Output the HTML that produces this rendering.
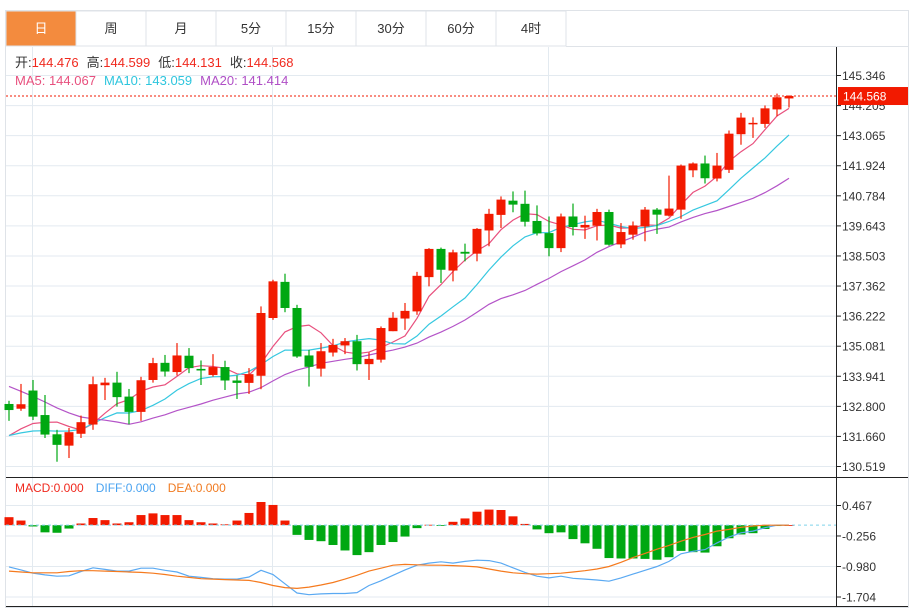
<!DOCTYPE html>
<html><head><meta charset="utf-8">
<style>
html,body{margin:0;padding:0;background:#fff;}
body{width:916px;height:609px;overflow:hidden;font-family:"Liberation Sans","Noto Sans CJK SC",sans-serif;}
svg{display:block}
</style></head>
<body>
<svg id="chart" width="916" height="609" viewBox="0 0 916 609" xmlns="http://www.w3.org/2000/svg" font-family="Liberation Sans, Noto Sans CJK SC, sans-serif">
  <rect x="5.5" y="10.5" width="903" height="597" fill="#fff" stroke="#dfe3e8"/>
  <g id="tabs"></g>
  <g id="grid"></g>
  <g id="ma"></g>
  <g id="candles"></g>
  <g id="macd"></g>
  <g id="axes"></g>
  <g font-size="13">
    <text x="15" y="67"><tspan fill="#333">开:</tspan><tspan fill="#f0291e">144.476</tspan><tspan fill="#333" dx="8">高:</tspan><tspan fill="#f0291e">144.599</tspan><tspan fill="#333" dx="8">低:</tspan><tspan fill="#f0291e">144.131</tspan><tspan fill="#333" dx="8">收:</tspan><tspan fill="#f0291e">144.568</tspan></text>
    <text x="15" y="85"><tspan fill="#e8507e">MA5: 144.067</tspan><tspan fill="#2ec6de" dx="8">MA10: 143.059</tspan><tspan fill="#b04fc6" dx="8">MA20: 141.414</tspan></text>
    <text x="15" y="492" font-size="12"><tspan fill="#f0291e">MACD:0.000</tspan><tspan fill="#4aa3f0" dx="12">DIFF:0.000</tspan><tspan fill="#f07a20" dx="12">DEA:0.000</tspan></text>
  </g>
</svg>
<script>
const tabLabels=["日","周","月","5分","15分","30分","60分","4时"];
const priceTicks=[145.346,144.205,143.065,141.924,140.784,139.643,138.503,137.362,136.222,135.081,133.941,132.800,131.660,130.519];
const macdTicks=[0.467,-0.256,-0.980,-1.704];
const historyCloses=[136.6,136.3,136.0,135.8,135.6,135.3,135.0,134.8,134.5,134.3,131.9,131.7,131.6,131.5,131.8,131.6,131.4,131.5,131.3];
const opens=[132.89,132.71,133.40,132.47,131.74,131.31,131.76,132.11,133.60,133.70,133.17,132.59,133.80,134.45,134.10,134.72,134.22,133.99,134.29,133.78,133.69,133.96,136.15,137.52,136.53,134.73,134.23,134.84,135.11,135.27,134.40,134.57,135.65,136.13,136.40,137.70,138.77,137.95,138.66,138.59,139.47,140.06,140.60,140.48,139.83,139.37,138.80,140.00,139.58,139.65,140.17,138.94,139.31,139.62,140.26,140.03,140.26,141.75,142.01,141.44,141.77,143.12,143.50,143.51,144.06,144.476];
const highs=[133.01,133.65,133.80,133.23,131.91,131.98,132.45,133.93,133.88,134.11,133.46,133.92,134.64,134.75,135.20,135.01,134.54,134.78,134.53,133.97,134.25,136.59,137.60,137.83,136.65,134.94,135.20,135.36,135.39,135.51,134.84,135.83,136.37,136.72,137.90,138.80,138.82,138.74,138.97,139.56,140.29,140.76,140.95,140.98,140.42,140.00,140.11,140.49,140.03,140.29,140.26,139.75,139.81,140.36,140.32,141.55,141.97,142.05,142.31,142.41,143.26,143.93,143.76,144.21,144.66,144.599];
const lows=[132.25,132.63,132.28,131.60,130.70,130.84,131.60,131.91,133.04,132.79,132.12,132.25,133.70,133.93,133.97,134.06,133.61,133.93,133.42,133.08,133.27,133.45,136.08,136.37,134.64,133.55,133.93,134.69,134.78,134.16,133.80,134.46,135.65,135.70,136.27,137.35,137.48,137.54,138.30,138.30,138.87,139.56,140.16,139.62,139.28,138.49,138.65,139.28,139.15,139.09,138.89,138.80,139.12,139.06,139.34,140.00,139.91,141.49,141.25,141.33,141.65,142.72,142.98,143.36,143.80,144.131];
const closes=[132.66,132.88,132.41,131.73,131.34,131.82,132.20,133.64,133.70,133.15,132.59,133.79,134.44,134.12,134.73,134.25,134.16,134.29,133.78,133.69,134.02,136.34,137.54,136.53,134.69,134.30,134.89,135.13,135.27,134.40,134.60,135.77,136.16,136.42,137.75,138.77,137.98,138.64,138.59,139.53,140.10,140.64,140.45,139.80,139.36,138.80,140.00,139.60,139.68,140.17,138.93,139.41,139.66,140.26,140.07,140.30,141.93,142.01,141.45,141.93,143.14,143.75,143.55,144.10,144.52,144.568];
const macdHist=[0.19,0.11,-0.03,-0.17,-0.18,-0.08,0.04,0.17,0.12,0.04,0.07,0.24,0.28,0.24,0.24,0.12,0.07,0.04,0.02,0.11,0.29,0.55,0.48,0.11,-0.23,-0.35,-0.38,-0.47,-0.60,-0.71,-0.64,-0.47,-0.40,-0.27,-0.07,0.01,-0.01,0.08,0.16,0.32,0.37,0.36,0.21,0.03,-0.10,-0.19,-0.17,-0.33,-0.43,-0.56,-0.78,-0.79,-0.79,-0.80,-0.82,-0.76,-0.61,-0.64,-0.65,-0.50,-0.31,-0.22,-0.19,-0.09,-0.02,0.00];
const diffLine=[-0.99,-1.06,-1.14,-1.18,-1.21,-1.20,-1.10,-1.01,-1.05,-1.09,-1.09,-1.02,-1.02,-1.07,-1.11,-1.21,-1.24,-1.27,-1.28,-1.28,-1.23,-1.07,-1.17,-1.39,-1.61,-1.65,-1.63,-1.62,-1.62,-1.60,-1.43,-1.32,-1.19,-1.06,-0.95,-0.90,-0.87,-0.90,-0.86,-0.83,-0.84,-0.90,-1.01,-1.12,-1.21,-1.25,-1.21,-1.26,-1.28,-1.30,-1.33,-1.25,-1.16,-1.07,-0.98,-0.86,-0.68,-0.62,-0.58,-0.42,-0.28,-0.18,-0.14,-0.06,0.00,0.00];
const deaLine=[-1.09,-1.11,-1.13,-1.13,-1.13,-1.10,-1.08,-1.08,-1.09,-1.10,-1.11,-1.12,-1.14,-1.17,-1.21,-1.24,-1.27,-1.28,-1.29,-1.30,-1.31,-1.36,-1.43,-1.48,-1.50,-1.47,-1.42,-1.36,-1.28,-1.19,-1.09,-1.02,-0.95,-0.93,-0.94,-0.95,-0.95,-0.96,-0.97,-0.99,-1.04,-1.09,-1.13,-1.15,-1.16,-1.15,-1.14,-1.11,-1.08,-1.04,-0.98,-0.88,-0.77,-0.67,-0.57,-0.48,-0.38,-0.29,-0.22,-0.14,-0.10,-0.05,-0.02,0.00,0.00,0.00];

const NS="http://www.w3.org/2000/svg";
function mk(tag,attrs,parent){const e=document.createElementNS(NS,tag);for(const k in attrs)e.setAttribute(k,attrs[k]);parent.appendChild(e);return e;}
const PL=6,PR=836;
const yP=p=>75.5+(145.346-p)*(391/(145.346-130.519));
const yM=v=>505.5+(0.467-v)*(91.5/(0.467+1.704));
const xI=i=>9+12*i;
const RED="#f21a00",GREEN="#00a812";

// tabs
const tabs=document.getElementById('tabs');
tabLabels.forEach((t,i)=>{
  const x=6+70*i;
  const r=mk('rect',{x:x,y:11,width:70,height:35,fill:i===0?'#f38b3e':'#fff',stroke:'#dfe3e8','stroke-width':1},tabs);
  
  
  const tx=mk('text',{x:x+35,y:33,'text-anchor':'middle','font-size':13,fill:i===0?'#fff':'#333'},tabs);
  tx.textContent=t;
  
  
});
mk('line',{x1:566,y1:46.5,x2:908,y2:46.5,stroke:'#dfe3e8'},tabs);

// grid
const grid=document.getElementById('grid');
priceTicks.forEach(p=>{const l=mk('line',{x1:PL,x2:PR,y1:yP(p),y2:yP(p),stroke:'#e3eaf0'},grid);
  
  });
macdTicks.forEach(v=>{const l=mk('line',{x1:PL,x2:PR,y1:yM(v),y2:yM(v),stroke:'#e3eaf0'},grid);
  
  });
[32.5,272.5,548.5].forEach(x=>{const l=mk('line',{x1:x,x2:x,y1:47,y2:607,stroke:'#e3eaf0'},grid);
  
  });

// MAs
const all=historyCloses.concat(closes),H=historyCloses.length;
function ma(n){return closes.map((c,i)=>{let s=0;for(let k=0;k<n;k++)s+=all[H+i-k];return s/n;});}
const maG=document.getElementById('ma');
[[5,'#e8507e','ma5-line'],[10,'#36c8e0','ma10-line'],[20,'#b454c8','ma20-line']].forEach(([n,col,name])=>{
  const v=ma(n);
  const pl=mk('polyline',{points:v.map((p,i)=>xI(i)+','+yP(p).toFixed(1)).join(' '),fill:'none',stroke:col,'stroke-width':1.2},maG);
  
  
});

// candles
const cg=document.getElementById('candles');
closes.forEach((c,i)=>{
  const o=opens[i],up=c>=o,col=up?RED:GREEN,x=xI(i);
  const g=mk('g',{},cg);
  
  
  mk('line',{x1:x,x2:x,y1:yP(highs[i]),y2:yP(lows[i]),stroke:col,'stroke-width':1.2},g);
  const t=yP(Math.max(o,c)),b=yP(Math.min(o,c));
  mk('rect',{x:x-4.5,y:t,width:9,height:Math.max(b-t,1.5),fill:col},g);
});

// last price line + label
const ax=document.getElementById('axes');
const lp=closes[closes.length-1];
const ll=mk('line',{x1:PL,x2:PR,y1:yP(lp),y2:yP(lp),stroke:RED,'stroke-dasharray':'2,2','stroke-width':1},ax);



// MACD
const mg=document.getElementById('macd');
const z=yM(0);
macdHist.forEach((v,i)=>{
  const y=yM(v);
  const r=mk('rect',{x:xI(i)-4.5,y:Math.min(y,z),width:9,height:Math.max(Math.abs(y-z),0.8),fill:v>=0?RED:GREEN},mg);
  
  
});
const zl=mk('line',{x1:PL,x2:PR,y1:z,y2:z,stroke:'#7fd3ea','stroke-dasharray':'3,3'},mg);


[[diffLine,'#5aa9f2','diff-line'],[deaLine,'#f57a1e','dea-line']].forEach(([arr,col,name])=>{
  const pl=mk('polyline',{points:arr.map((v,i)=>xI(i)+','+yM(v).toFixed(1)).join(' '),fill:'none',stroke:col,'stroke-width':1.2},mg);
  
  
});

// axes
mk('line',{x1:PR+0.5,x2:PR+0.5,y1:47,y2:607,stroke:'#222'},ax);
mk('line',{x1:PL,x2:908,y1:477.5,y2:477.5,stroke:'#222'},ax);
mk('line',{x1:PL,x2:908,y1:606.5,y2:606.5,stroke:'#222'},ax);
priceTicks.forEach(p=>{
  const y=yP(p);
  mk('line',{x1:PR,x2:PR+5,y1:y,y2:y,stroke:'#222'},ax);
  const t=mk('text',{x:842,y:y+4.5,'font-size':12,fill:'#333'},ax);
  t.textContent=p.toFixed(3);
  
  
});
macdTicks.forEach(v=>{
  const y=yM(v);
  mk('line',{x1:PR,x2:PR+5,y1:y,y2:y,stroke:'#222'},ax);
  const t=mk('text',{x:842,y:y+4.5,'font-size':12,fill:'#333'},ax);
  t.textContent=v.toFixed(3);
  
  
});
const ly=yP(lp);
const lb=mk('rect',{x:838,y:ly-9,width:70,height:18,fill:RED},ax);


const lt=mk('text',{x:843,y:ly+4.5,'font-size':12,fill:'#fff'},ax);
lt.textContent=lp.toFixed(3);


</script>
</body></html>
